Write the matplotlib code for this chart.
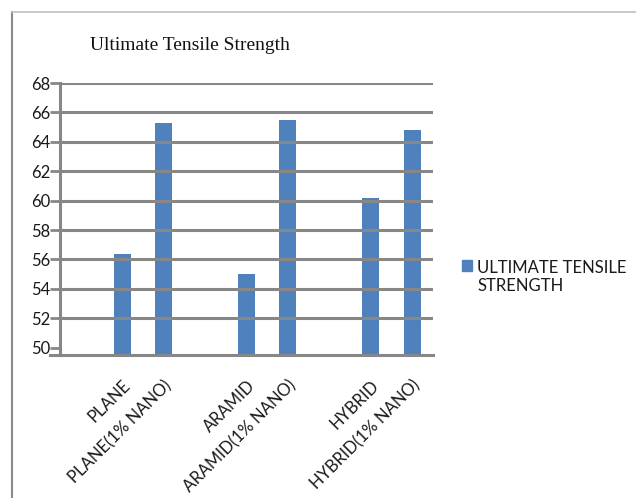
import matplotlib
matplotlib.use("Agg")
import matplotlib.pyplot as plt
from matplotlib.lines import Line2D

# Ultimate tensile strength per specimen type
categories = ["PLANE", "PLANE(1% NANO)", "ARAMID", "ARAMID(1% NANO)",
              "HYBRID", "HYBRID(1% NANO)"]
strength = [56.4, 65.3, 55.0, 65.5, 60.2, 64.8]
y_ticks = [50, 52, 54, 56, 58, 60, 62, 64, 66, 68]
series_name = "ULTIMATE TENSILE\nSTRENGTH"

BAR = "#4f81bd"
GRID = "#878787"
TEXT = "#1a1a1a"

fig = plt.figure(figsize=(6.36, 4.98), dpi=100)
ax = fig.add_axes([60 / 636, 1 - 355 / 498, 373 / 636, 272 / 498])

# each pair sits after an empty slot: slots 1,2 / 4,5 / 7,8 of 9
xs = [3 * (i // 2) + 1 + (i % 2) for i in range(len(categories))]
ax.bar(xs, strength, width=0.41, color=BAR, zorder=1)
ax.set_xlim(-0.5, 8.5)
ax.set_ylim(49.5, 68)

for t in y_ticks[1:]:
    ax.axhline(t, color=GRID, lw=2.2, zorder=2)

ax.set_xticks(xs)
ax.set_xticklabels(categories, rotation=45, ha="right", rotation_mode="anchor",
                   fontsize=12, family="Lato", color=TEXT)
ax.tick_params(axis="x", length=0, pad=16)
ax.set_yticks(y_ticks)
ax.set_yticklabels([str(t) for t in y_ticks], fontsize=12, family="Lato",
                   color=TEXT)
ax.tick_params(axis="y", length=7, width=2, color=GRID, pad=0)

for side in ["top", "right"]:
    ax.spines[side].set_visible(False)
for side in ["left", "bottom"]:
    ax.spines[side].set_color(GRID)
    ax.spines[side].set_linewidth(2.2)
    ax.spines[side].set_zorder(3)
# short stub of the category axis to the left of the value axis
ax.plot([-0.028, 0], [0, 0], transform=ax.transAxes, color=GRID, lw=2.2,
        clip_on=False, zorder=3)

fig.text(190 / 636, 1 - 45 / 498, "Ultimate Tensile Strength", ha="center",
         va="center", fontsize=14, family="Liberation Serif", color="#111111")

# legend entry
fig.patches.append(plt.Rectangle((462 / 636, 1 - 271 / 498), 10 / 636, 11 / 498,
                                 transform=fig.transFigure, color=BAR))
fig.text(477 / 636, 1 - 260 / 498, series_name, ha="left", va="top",
         fontsize=12, family="Lato", color=TEXT, linespacing=1.15)

# outer frame of the chart area
fig.add_artist(Line2D([12 / 636, 12 / 636], [0, 1 - 12 / 498], color="#8a8a8a",
                      lw=1.5, transform=fig.transFigure))
fig.add_artist(Line2D([12 / 636, 1], [1 - 12 / 498, 1 - 12 / 498],
                      color="#c0c0c0", lw=1.2, transform=fig.transFigure))

fig.savefig("out.png", dpi=100)
